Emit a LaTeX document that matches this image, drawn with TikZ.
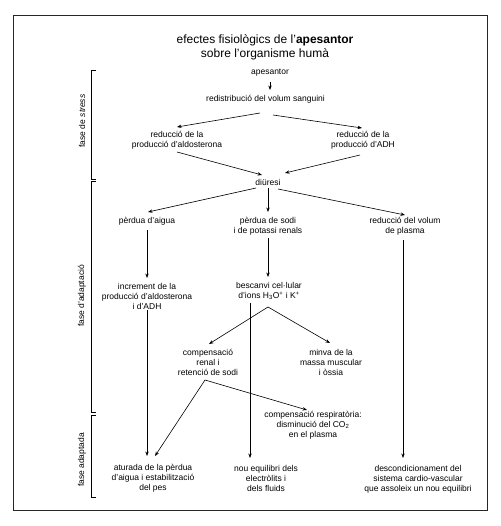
\documentclass[tikz,border=0pt]{standalone}
\usepackage{fontspec}
\setmainfont{Liberation Sans}
\usetikzlibrary{arrows.meta, positioning}

\begin{document}
\begin{tikzpicture}[x=1pt, y=-1pt, >={Stealth[length=4.5pt, width=3.4pt]},
    fx/.style={align=center, font=\fontsize{8.5}{10}\selectfont, inner sep=1pt},
    phase/.style={rotate=90, font=\fontsize{8.5}{10}\selectfont, inner sep=1pt},
    brk/.style={line width=0.6pt},
    flow/.style={->, line width=0.6pt}]
    \useasboundingbox (0,0) rectangle (500,526);
    \draw[line width=0.9pt, black!85] (13,15) rectangle (487,510);

    % title
    \node[align=center, font=\fontsize{12}{14}\selectfont] (title) at (265,47)
        {efectes fisiològics de l'\textbf{apesantor}\\sobre l'organisme humà};

    % phases
    \draw[brk] (96,70) -- (91,70) -- (91,179) -- (96,179);
    \draw[brk] (96,181) -- (91,181) -- (91,412) -- (96,412);
    \draw[brk] (96,415) -- (91,415) -- (91,497) -- (96,497);
    \node[phase] (pstress) at (82,121) {fase de \textit{stress}};
    \node[phase] (padapt) at (82,296) {fase d'adaptació};
    \node[phase] (padapd) at (82,460) {fase adaptada};

    % effects
    \node[fx] (apes) at (270,73) {apesantor};
    \node[fx] (redist) at (265.5,99) {redistribució del volum sanguini};
    \node[fx] (aldo) at (177,140) {reducció de la\\producció d'aldosterona};
    \node[fx] (adh) at (363,140) {reducció de la\\producció d'ADH};
    \node[fx] (diur) at (268,182) {diüresi};
    \node[fx] (aigua) at (147,221) {pèrdua d'aigua};
    \node[fx] (sodi) at (268,226) {pèrdua de sodi\\i de potassi renals};
    \node[fx] (plasma) at (405,226) {reducció del volum\\de plasma};
    \node[fx] (incr) at (147,296) {increment de la\\producció d'aldosterona\\i d'ADH};
    \node[fx] (besc) at (269,291) {bescanvi cel·lular\\d'ions H\textsubscript{3}O\textsuperscript{+} i K\textsuperscript{+}};
    \node[fx] (compren) at (208,362) {compensació\\renal i\\retenció de sodi};
    \node[fx] (minva) at (331,362) {minva de la\\massa muscular\\i òssia};
    \node[fx] (compresp) at (313,425) {compensació respiratòria:\\disminució del CO\textsubscript{2}\\en el plasma};
    \node[fx] (atur) at (153,478) {aturada de la pèrdua\\d'aigua i estabilització\\del pes};
    \node[fx] (nou) at (266,478) {nou equilibri dels\\electròlits i\\dels fluids};
    \node[fx] (desc) at (418,479) {descondicionament del\\sistema cardio-vascular\\que assoleix un nou equilibri};

    % connectors
    \draw[flow] ([shift={(0,9)}]apes.center) -- ([shift={(0,-9)}]apes.center |- redist.center);
    \draw[flow] ([shift={(-5.5,14)}]redist.center) -- ([shift={(0,-13)}]aldo.center);
    \draw[flow] ([shift={(7.5,16)}]redist.center) -- ([shift={(-1,-12)}]adh.center);
    \draw[flow] ([shift={(0,12)}]aldo.center) -- ([shift={(-6,-7)}]diur.center);
    \draw[flow] ([shift={(-3,15)}]adh.center) -- ([shift={(17,-9)}]diur.center);
    \draw[flow] ([shift={(-12,6)}]diur.center) -- ([shift={(1,-9)}]aigua.center);
    \draw[flow] ([shift={(0,6)}]diur.center) -- ([shift={(0,-14)}]sodi.center);
    \draw[flow] ([shift={(10,7)}]diur.center) -- ([shift={(0,-11)}]plasma.center);
    \draw[flow] ([shift={(0,9)}]aigua.center) -- ([shift={(0,-18)}]incr.center);
    \draw[flow] ([shift={(0,12)}]sodi.center) -- ([shift={(-1,-14)}]besc.center);
    \draw[flow] ([shift={(-2,14)}]plasma.center) -- ([shift={(-15,-21)}]desc.center);
    \draw[flow] ([shift={(0,14)}]incr.center) -- ([shift={(-6,-22)}]atur.center);
    \draw[flow] ([shift={(-19,12)}]besc.center) -- ([shift={(-16,-20)}]nou.center);
    \draw[{Stealth[length=4.5pt, width=3.4pt]}-{Stealth[length=4.5pt, width=3.4pt]}, line width=0.6pt]
        ([shift={(1,-18)}]compren.center) -- ([shift={(-1,16)}]besc.center) -- ([shift={(-1,-19)}]minva.center);
    \draw[{Stealth[length=4.5pt, width=3.4pt]}-{Stealth[length=4.5pt, width=3.4pt]}, line width=0.6pt]
        ([shift={(2,-22)}]atur.center) -- ([shift={(-3,18)}]compren.center) -- ([shift={(-6,-15)}]compresp.center);
\end{tikzpicture}
\end{document}
